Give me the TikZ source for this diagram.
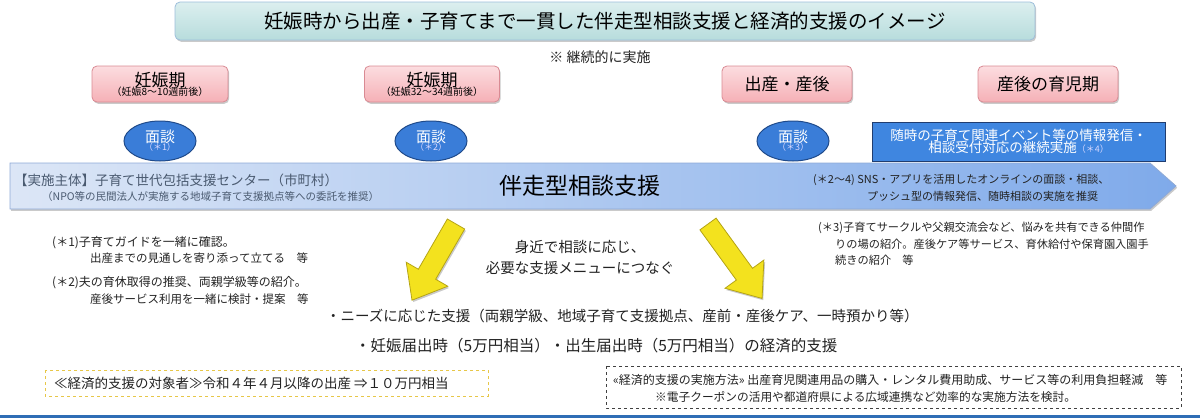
\documentclass[tikz,border=0pt]{standalone}
\usepackage{fontspec}
\setmainfont{Noto Sans CJK JP}
\usetikzlibrary{shadows,shapes.geometric}
\newcommand{\fsz}[1]{\fontsize{#1}{#1}\selectfont}
\definecolor{titletop}{HTML}{DCEFEF}
\definecolor{titlebot}{HTML}{B7DCDC}
\definecolor{titledraw}{HTML}{9DBEDB}
\definecolor{pinktop}{HTML}{FCDDE0}
\definecolor{pinkbot}{HTML}{F5B0B6}
\definecolor{pinkdraw}{HTML}{D98A93}
\definecolor{ellfill}{HTML}{3A7DD8}
\definecolor{elldraw}{HTML}{1F4A8A}
\definecolor{bandleft}{HTML}{DCE6F6}
\definecolor{bandright}{HTML}{7FAAEA}
\definecolor{banddraw}{HTML}{8EA9D6}
\definecolor{boxblue}{HTML}{3F86E0}
\definecolor{boxdraw}{HTML}{203D70}
\definecolor{arrowyel}{HTML}{F3E21E}
\definecolor{arrowdraw}{HTML}{B5A415}
\definecolor{yeldash}{HTML}{E7C748}
\definecolor{txt}{HTML}{222222}
\definecolor{bandtxt}{HTML}{4A5A70}
\definecolor{lineblue}{HTML}{2E6DB5}
\tikzset{
  shd/.style={drop shadow={shadow xshift=1.2pt,shadow yshift=-1.8pt,opacity=0.35,fill=black!60}},
  titlebox/.style={rounded corners=5pt,top color=titletop,bottom color=titlebot,draw=titledraw,line width=0.8pt,shd,inner sep=0},
  phasebox/.style={rounded corners=5pt,top color=pinktop,bottom color=pinkbot,draw=pinkdraw,line width=0.8pt,shd,inner sep=0,minimum height=36pt,align=center},
  mendan/.style={ellipse,fill=ellfill,draw=elldraw,line width=1pt,minimum width=72pt,minimum height=40pt,inner sep=0,align=center,text=white},
  infobox/.style={rectangle,fill=boxblue,draw=boxdraw,line width=1pt,inner sep=0,align=center,text=white},
  yarrow/.style={fill=arrowyel,draw=arrowdraw,line width=0.8pt,line join=miter,shd},
  lbl/.style={anchor=west,inner sep=0,text=txt},
  clbl/.style={inner sep=0,text=txt,align=center}
}
\begin{document}
\begin{tikzpicture}[x=1pt,y=-1pt]
\useasboundingbox (0,0) rectangle (1200,418);
% title
\node[titlebox,minimum width=860pt,minimum height=38pt] (title) at (605,21)
  {\fsz{19.5}妊娠時から出産・子育てまで一貫した伴走型相談支援と経済的支援のイメージ};
\node[clbl] (keizoku) at (600,57) {\fsz{14}※ 継続的に実施};
% phases
\node[phasebox,minimum width=136pt] (p1) at (160,84)
  {\fsz{17}妊娠期\\[-3pt]{\fsz{10}（妊娠8～10週前後）}};
\node[phasebox,minimum width=135pt] (p2) at (432,84)
  {\fsz{17}妊娠期\\[-3pt]{\fsz{10}（妊娠32～34週前後）}};
\node[phasebox,minimum width=130pt] (p3) at (787,84) {\fsz{17}出産・産後};
\node[phasebox,minimum width=140pt] (p4) at (1048,84) {\fsz{17}産後の育児期};
% band
\path[left color=bandleft,right color=bandright,draw=banddraw,line width=0.8pt,shd]
  (10,163) -- (1150,163) -- (1176,186) -- (1150,209) -- (10,209) -- cycle;
% interviews
\node[mendan] (m1) at (160,141) {\fsz{15}面談\\[-4pt]{\fsz{9}\color{white!85!blue}（＊1）}};
\node[mendan] (m2) at (431,141) {\fsz{15}面談\\[-4pt]{\fsz{9}\color{white!85!blue}（＊2）}};
\node[mendan] (m3) at (793,141) {\fsz{15}面談\\[-4pt]{\fsz{9}\color{white!85!blue}（＊3）}};
\node[infobox,minimum width=293pt,minimum height=39pt] (info) at (1018.5,141.5)
  {\fsz{13.5}随時の子育て関連イベント等の情報発信・\\[-1pt]\fsz{13.5}相談受付対応の継続実施{\fsz{9}\color{white!85!blue}（＊4）}};
% band texts
\node[lbl,text=bandtxt] (jisshi) at (14,180) {\fsz{13.5}【実施主体】子育て世代包括支援センター（市町村）};
\node[lbl,text=bandtxt] (npo) at (42,197) {\fsz{10.5}（NPO等の民間法人が実施する地域子育て支援拠点等への委託を推奨）};
\node[clbl,text=black] (banso) at (580,186) {\fsz{23}伴走型相談支援};
\node[lbl] (sns1) at (813,180) {\fsz{11}(＊2～4) SNS・アプリを活用したオンラインの面談・相談、};
\node[lbl] (sns2) at (867,196) {\fsz{11}プッシュ型の情報発信、随時相談の実施を推奨};
% arrows
\begin{scope}[shift={(456,224)},rotate=-120]
  \path[yarrow] (0,-10) -- (58,-10) -- (58,-24) -- (88,0) -- (58,24) -- (58,10) -- (0,10) -- cycle;
\end{scope}
\begin{scope}[shift={(708,224)},rotate=-54]
  \path[yarrow] (0,-10) -- (62,-10) -- (62,-24) -- (92,0) -- (62,24) -- (62,10) -- (0,10) -- cycle;
\end{scope}
% center text
\node[clbl] (mijika) at (580,247) {\fsz{14.5}身近で相談に応じ、};
\node[clbl] (hitsuyo) at (580,268) {\fsz{14.5}必要な支援メニューにつなぐ};
% notes left
\node[lbl] (n1a) at (52,243) {\fsz{12}(＊1)子育てガイドを一緒に確認。};
\node[lbl] (n1b) at (90,258) {\fsz{11.5}出産までの見通しを寄り添って立てる　等};
\node[lbl] (n2a) at (52,283) {\fsz{12}(＊2)夫の育休取得の推奨、両親学級等の紹介。};
\node[lbl] (n2b) at (90,299) {\fsz{11.5}産後サービス利用を一緒に検討・提案　等};
% notes right
\node[lbl] (n3a) at (818,228) {\fsz{11.2}(＊3)子育てサークルや父親交流会など、悩みを共有できる仲間作};
\node[lbl] (n3b) at (835,244) {\fsz{11.2}りの場の紹介。産後ケア等サービス、育休給付や保育園入園手};
\node[lbl] (n3c) at (835,260) {\fsz{11.2}続きの紹介　等};
% support lines
\node[lbl] (needs) at (326,316) {\fsz{14.5}・ニーズに応じた支援（両親学級、地域子育て支援拠点、産前・産後ケア、一時預かり等）};
\node[lbl] (kyufu) at (355,346) {\fsz{15.5}・妊娠届出時（5万円相当）・出生届出時（5万円相当）の経済的支援};
% dashed boxes
\draw[yeldash,dashed,line width=1pt] (45,370) rectangle (488,396);
\node[lbl] (taisho) at (54,383) {\fsz{13.5}≪経済的支援の対象者≫令和４年４月以降の出産 ⇒１０万円相当};
\draw[black!75,dashed,line width=0.9pt] (606,366) rectangle (1181,408);
\node[lbl] (hoho1) at (613,380) {\fsz{12}«経済的支援の実施方法» 出産育児関連用品の購入・レンタル費用助成、サービス等の利用負担軽減　等};
\node[lbl] (hoho2) at (655,397) {\fsz{11.7}※電子クーポンの活用や都道府県による広域連携など効率的な実施方法を検討。};
% bottom line
\fill[lineblue] (0,414.5) rectangle (1200,418);
\end{tikzpicture}
\end{document}
